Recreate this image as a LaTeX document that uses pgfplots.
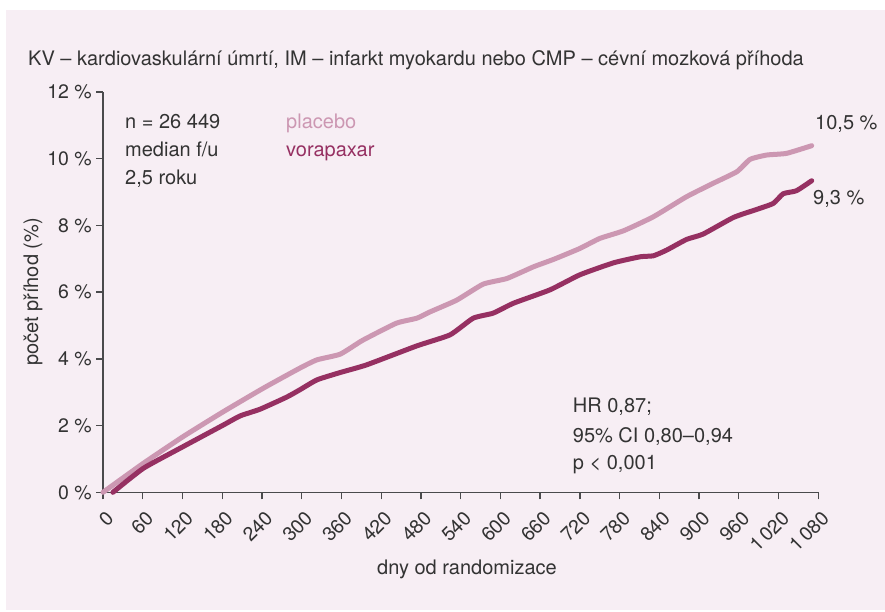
\documentclass[border=0pt]{standalone}
\usepackage{fontspec}
\setmainfont{TeX Gyre Heros}
\usepackage{pgfplots}
\pgfplotsset{compat=1.18}
\definecolor{bg}{HTML}{F7EEF4}
\definecolor{axisgray}{HTML}{4A4A4C}
\definecolor{txt}{HTML}{333333}
\definecolor{placebo}{HTML}{CC97B2}
\definecolor{vorapaxar}{HTML}{963062}

\begin{document}
\begin{tikzpicture}[x=1pt,y=1pt,font=\fontsize{20}{24}\selectfont]
\fill[white] (0,0) rectangle (885,612);
\fill[bg] (6,2) rectangle (885,602);

\begin{axis}[
  at={(103pt,119.7pt)}, anchor=south west,
  scale only axis, width=715.3pt, height=400.3pt,
  xmin=0, xmax=1080, ymin=0, ymax=12,
  axis x line*=bottom, axis y line*=left,
  axis line style={axisgray, line width=1.5pt},
  tick style={axisgray, line width=1.3pt},
  tick align=outside, major tick length=7pt,
  /pgf/number format/assume math mode=true,
  ticklabel style={text=txt, font=\fontsize{19.5}{22}\selectfont},
  xtick={0,60,...,1080},
  xticklabels={0,60,120,180,240,300,360,420,480,540,600,660,720,780,840,900,960,1\,020,1\,080},
  xticklabel style={rotate=45, anchor=north east, inner sep=1pt, xshift=-5pt, yshift=-8pt},
  ytick={0,2,...,12},
  yticklabels={0 \%,2 \%,4 \%,6 \%,8 \%,10 \%,12 \%},
  yticklabel style={inner sep=2pt, xshift=-2pt},
  clip=false,
]
% placebo
\addplot[placebo, line width=5pt, line join=round, line cap=round, smooth, tension=0.3] coordinates {
  (0,0.00) (61,0.87) (121,1.67) (182,2.42) (242,3.12) (297,3.72) (323,3.97)
  (358,4.14) (388,4.51) (398,4.62) (443,5.07) (474,5.22) (494,5.41) (534,5.76)
  (574,6.24) (610,6.41) (650,6.76) (680,6.98) (720,7.31) (750,7.61) (786,7.84)
  (831,8.26) (881,8.86) (921,9.26) (957,9.61) (977,9.98) (1002,10.11)
  (1032,10.16) (1070,10.39)
};
% vorapaxar
\addplot[vorapaxar, line width=5pt, line join=round, line cap=round, smooth, tension=0.3] coordinates {
  (15,0.00) (61,0.72) (121,1.37) (182,2.02) (207,2.29) (237,2.49) (277,2.85)
  (297,3.07) (323,3.37) (358,3.59) (398,3.82) (474,4.39) (524,4.72) (559,5.22)
  (589,5.37) (620,5.67) (675,6.07) (720,6.52) (771,6.88) (811,7.06) (831,7.09)
  (851,7.26) (881,7.58) (906,7.74) (952,8.24) (987,8.48) (1012,8.66)
  (1027,8.95) (1047,9.04) (1070,9.34)
};
\end{axis}

\begin{scope}[every node/.style={text=txt, inner sep=0pt}]
\node[anchor=base west] at (28,546.3) {KV – kardiovaskulární úmrtí, IM – infarkt myokardu nebo CMP – cévní mozková příhoda};
\node[rotate=90] at (33,320) {počet příhod (\%)};
\node[anchor=base] at (467,37) {dny od randomizace};
\node[anchor=base west] at (125,483.7) {n = 26 449};
\node[anchor=base west] at (125,455.3) {median f/u};
\node[anchor=base west] at (125,427) {2,5 roku};
\node[anchor=base west, text=placebo] at (286,483.7) {placebo};
\node[anchor=base west, text=vorapaxar] at (286,455.3) {vorapaxar};
\node[anchor=base west] at (815,482) {10,5 \%};
\node[anchor=base west] at (813,407) {9,3 \%};
\node[anchor=base west] at (572.7,199) {HR 0,87;};
\node[anchor=base west] at (572.7,169.3) {95\% CI 0,80–0,94};
\node[anchor=base west] at (572.7,142) {p < 0,001};
\end{scope}
\pgfresetboundingbox
\useasboundingbox (0,0) rectangle (885,612);
\end{tikzpicture}
\end{document}
